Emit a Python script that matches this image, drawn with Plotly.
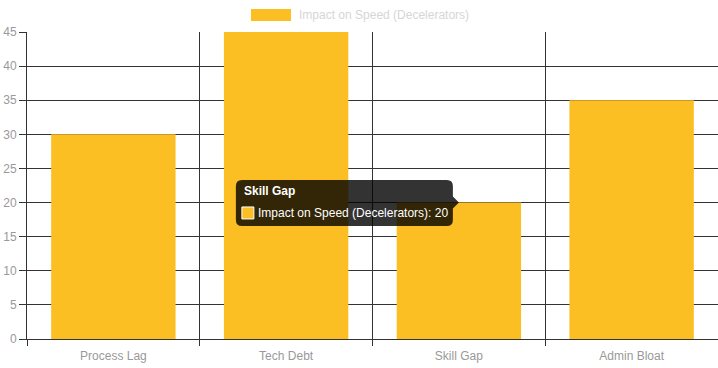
import plotly.graph_objects as go

categories = ["Process Lag", "Tech Debt", "Skill Gap", "Admin Bloat"]
values = [30, 45, 20, 35]
series_name = "Impact on Speed (Decelerators)"
y_ticks = [0, 5, 10, 15, 20, 25, 30, 35, 40, 45]

BAR = "#FBBF24"
GRID = "#333333"
FONT = "Liberation Sans, Arial, sans-serif"
TIP_BG = "rgba(0,0,0,0.8)"

W, H = 718, 368
ML, MR, MT, MB = 27, 0, 32, 29
PW, PH = W - ML - MR, H - MT - MB

def px_x(p):
    return (p - ML) / PW

def px_y(p):
    return (H - MB - p) / PH

fig = go.Figure(go.Bar(
    x=categories, y=values, name=series_name,
    marker=dict(color=BAR, line=dict(width=0)),
    width=0.72, showlegend=False, hoverinfo="skip",
))

tip_idx = 2
tip_cat = categories[tip_idx]
tip_val = values[tip_idx]

# tooltip box with caret, pixel-sized and anchored at bar top centre
L, R, T, B, r = -223, -6, 22.6, -23.4, 6
path = (f"M {L+r},{T} L {R-r},{T} Q {R},{T} {R},{T-r} "
        f"L {R},6 L 0,0 L {R},-6 "
        f"L {R},{B+r} Q {R},{B} {R-r},{B} L {L+r},{B} Q {L},{B} {L},{B+r} "
        f"L {L},{T-r} Q {L},{T} {L+r},{T} Z")
shapes = [
    dict(type="path", xref="x", yref="y", xsizemode="pixel", ysizemode="pixel",
         xanchor=tip_idx, yanchor=tip_val, path=path,
         fillcolor=TIP_BG, line=dict(width=0), layer="above"),
    dict(type="rect", xref="x", yref="y", xsizemode="pixel", ysizemode="pixel",
         xanchor=tip_idx, yanchor=tip_val, x0=-217, x1=-205, y0=-4.4, y1=-16.4,
         fillcolor=BAR, line=dict(color="white", width=1), layer="above"),
    # legend swatch
    dict(type="rect", xref="paper", yref="paper",
         x0=px_x(251), x1=px_x(291), y0=px_y(21), y1=px_y(9),
         fillcolor=BAR, line=dict(width=0)),
]

annotations = [
    dict(xref="x", yref="y", x=tip_idx, y=tip_val, xshift=-217, yshift=11.5,
         xanchor="left", yanchor="middle", showarrow=False,
         text=f"<b>{tip_cat}</b>", font=dict(family=FONT, size=12, color="white")),
    dict(xref="x", yref="y", x=tip_idx, y=tip_val, xshift=-203, yshift=-10,
         xanchor="left", yanchor="middle", showarrow=False,
         text=f"{series_name}: {tip_val}", font=dict(family=FONT, size=12, color="white")),
    dict(xref="paper", yref="paper", x=px_x(297), y=px_y(15),
         xanchor="left", yanchor="middle", showarrow=False,
         text=series_name, font=dict(family=FONT, size=12, color="#d6d6d6")),
]

fig.update_layout(
    width=W, height=H,
    margin=dict(l=ML, r=MR, t=MT, b=MB, pad=0),
    paper_bgcolor="white", plot_bgcolor="white",
    font=dict(family=FONT, size=12, color="#999999"),
    hovermode=False,
    bargap=0.28,
    shapes=shapes, annotations=annotations,
    xaxis=dict(
        type="category", tickson="boundaries", showgrid=True, gridcolor=GRID, gridwidth=1,
        showline=True, linecolor=GRID, linewidth=1,
        ticks="outside", ticklen=6, tickcolor=GRID,
        tickfont=dict(family=FONT, size=12, color="#999999"),
        ticklabelstandoff=6,
        range=[-0.5, 3.5], fixedrange=True, automargin=False,
    ),
    yaxis=dict(
        range=[0, 45], tickvals=y_ticks, showgrid=True, gridcolor=GRID, gridwidth=1,
        zeroline=True, zerolinecolor=GRID, zerolinewidth=1,
        showline=True, linecolor=GRID, linewidth=1,
        ticks="outside", ticklen=7, tickcolor=GRID,
        tickfont=dict(family=FONT, size=12, color="#999999"),
        fixedrange=True, automargin=False,
    ),
)

fig.write_html("out.html", config={"displayModeBar": False},
               post_script="document.body.style.margin='0';document.body.style.padding='0';")
